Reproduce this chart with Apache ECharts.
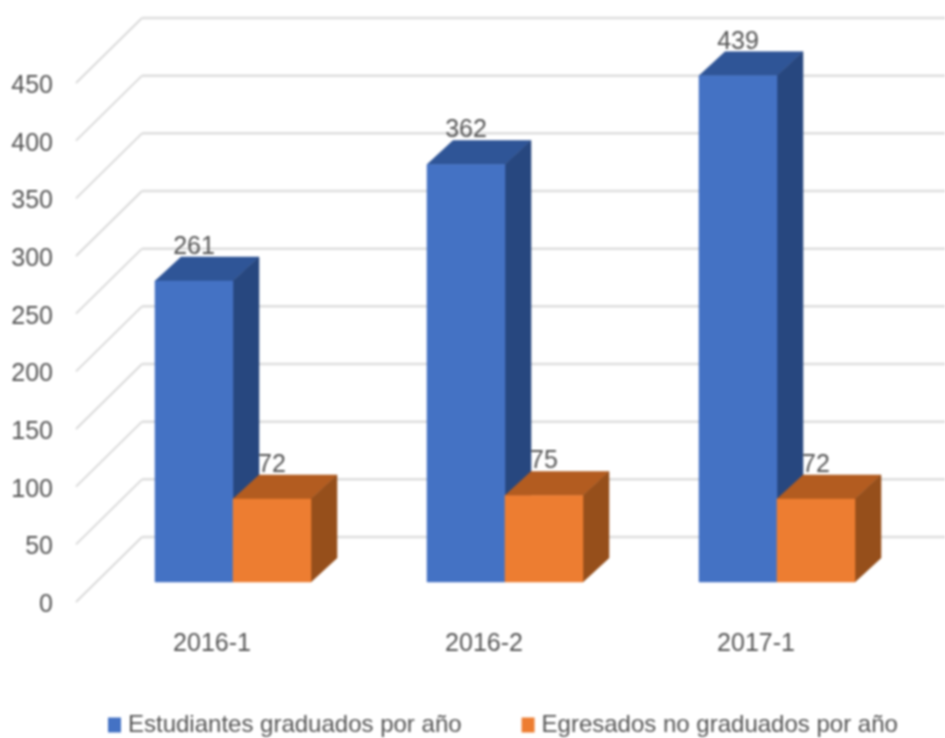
<!DOCTYPE html>
<html>
<head>
<meta charset="utf-8">
<style>
  html, body { margin: 0; padding: 0; background: #fff; }
  #main { width: 945px; height: 738px; filter: blur(1px); }
</style>
<script src="https://cdn.jsdelivr.net/npm/echarts@6/dist/echarts.min.js"></script>
</head>
<body>
<div id="main"></div>
<script>
var categories = ['2016-1', '2016-2', '2017-1']
var graduados = [261, 362, 439]
var noGraduados = [72, 75, 72]
var yTicks = [0, 50, 100, 150, 200, 250, 300, 350, 400, 450]

var FONT = '"Liberation Sans Narrow", "Liberation Sans", sans-serif'
// wall depth and bar placement, in px from the axis plane
var WALL_X = 66, WALL_Y = -65
var BAR_DX = 21, BAR_DY = -20
var DEPTH_X = 26, DEPTH_Y = -24
var BAR_W = 78

function poly (points, color) {
  return {
    type: 'polygon',
    shape: { points: points },
    style: { fill: color, stroke: color, lineWidth: 0.5 }
  }
}

function barRenderer (side, colors) {
  return function (params, api) {
    var top = api.coord([api.value(0), api.value(1)])
    var base = api.coord([api.value(0), 0])
    var x0 = top[0] + BAR_DX + (side < 0 ? -BAR_W : 0)
    var x1 = x0 + BAR_W
    var y0 = top[1] + BAR_DY
    var y1 = base[1] + BAR_DY
    return {
      type: 'group',
      children: [
        poly([[x0, y0], [x1, y0], [x1 + DEPTH_X, y0 + DEPTH_Y], [x0 + DEPTH_X, y0 + DEPTH_Y]], colors.top),
        poly([[x1, y0], [x1 + DEPTH_X, y0 + DEPTH_Y], [x1 + DEPTH_X, y1 + DEPTH_Y], [x1, y1]], colors.side),
        poly([[x0, y0], [x1, y0], [x1, y1], [x0, y1]], colors.front),
        {
          type: 'text',
          style: {
            x: x0 + 39,
            y: y0 + DEPTH_Y - 10,
            text: String(api.value(1)),
            fill: '#555',
            font: '25px ' + FONT,
            align: 'center',
            verticalAlign: 'middle'
          }
        }
      ]
    }
  }
}

function wallRenderer (params, api) {
  var p = api.coord([0, api.value(0)])
  var x = params.coordSys.x
  var backY = p[1] + WALL_Y
  return {
    type: 'group',
    children: [
      {
        type: 'polyline',
        shape: { points: [[x, p[1]], [x + WALL_X, backY]] },
        style: { stroke: '#d8d8d8', lineWidth: 1.8, fill: null }
      },
      {
        type: 'line',
        shape: { x1: x + WALL_X, y1: backY, x2: api.getWidth(), y2: backY },
        style: { stroke: '#dedede', lineWidth: 2.5 }
      }
    ]
  }
}

var chart = echarts.init(document.getElementById('main'), null, { renderer: 'canvas' })
chart.setOption({
  backgroundColor: '#fff',
  animation: false,
  grid: { left: 76, top: 83, width: 816, height: 519 },
  legend: {
    left: 103,
    top: 708,
    icon: 'rect',
    itemWidth: 13,
    itemHeight: 15,
    itemGap: 60,
    data: ['Estudiantes graduados por año', 'Egresados no graduados por año'],
    textStyle: { color: '#555', fontFamily: FONT, fontSize: 24, padding: [0, 0, 0, 2] }
  },
  xAxis: {
    type: 'category',
    data: categories,
    axisLine: { show: false },
    axisTick: { show: false },
    axisLabel: { color: '#555', fontFamily: FONT, fontSize: 25, margin: 30 }
  },
  yAxis: {
    type: 'value',
    min: 0,
    max: 450,
    interval: 50,
    axisLine: { show: false },
    axisTick: { show: false },
    splitLine: { show: false },
    axisLabel: { color: '#555', fontFamily: FONT, fontSize: 25, margin: 23, verticalAlign: 'top', lineHeight: 6 }
  },
  series: [
    {
      name: 'wall',
      type: 'custom',
      coordinateSystem: 'cartesian2d',
      renderItem: wallRenderer,
      data: yTicks.map(function (v) { return [v] }),
      encode: { y: 0 },
      silent: true
    },
    {
      name: 'Estudiantes graduados por año',
      type: 'custom',
      renderItem: barRenderer(-1, { front: '#4472c4', top: '#2f5597', side: '#27477f' }),
      itemStyle: { color: '#4472c4' },
      data: graduados.map(function (v, i) { return [i, v] }),
      encode: { x: 0, y: 1 }
    },
    {
      name: 'Egresados no graduados por año',
      type: 'custom',
      renderItem: barRenderer(1, { front: '#ed7d31', top: '#b35c20', side: '#964f1b' }),
      itemStyle: { color: '#ed7d31' },
      data: noGraduados.map(function (v, i) { return [i, v] }),
      encode: { x: 0, y: 1 }
    }
  ]
})
</script>
</body>
</html>
